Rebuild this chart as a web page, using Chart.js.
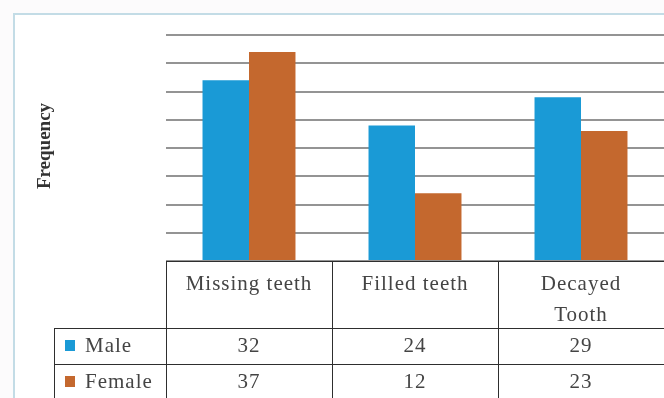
<!DOCTYPE html>
<html>
<head>
<meta charset="utf-8">
<script src="https://cdn.jsdelivr.net/npm/chart.js@4.4.0/dist/chart.umd.min.js"></script>
<style>
    html, body { margin: 0; padding: 0; background: #fcfbfc; }
    #frame {
        position: absolute;
        left: 13px;
        top: 13px;
        width: 700px;
        height: 420px;
        border: 2px solid #c3dce6;
        background: #ffffff;
    }
    #wrap { position: absolute; left: 0; top: 0; width: 664px; height: 398px; }
</style>
</head>
<body>
<div id="frame"></div>
<div id="wrap"><canvas id="teethChart" width="664" height="398"></canvas></div>
<script>
const categories = ['Missing teeth', 'Filled teeth', ['Decayed', 'Tooth']];
const maleValues = [32, 24, 29];
const femaleValues = [37, 12, 23];
const seriesNames = ['Male', 'Female'];

const SERIF = '"Liberation Serif", "DejaVu Serif", serif';
const TEXT = '#444444';
const SPACING = '1px';

// slightly wide letter spacing for every label the chart draws
const spacingPlugin = {
    id: 'spacing',
    beforeDraw(chart) { chart.ctx.letterSpacing = SPACING; },
    afterDraw(chart) { chart.ctx.letterSpacing = '0px'; }
};

// data table under the plot, plus the rotated axis caption
const tablePlugin = {
    id: 'dataTable',
    afterDraw(chart) {
        const ctx = chart.ctx;
        const x = chart.scales.x;
        const area = chart.chartArea;
        const left = 54;
        const right = 664;
        const rowTops = [328, 364];
        const rowH = 36;

        ctx.save();
        ctx.letterSpacing = SPACING;
        ctx.strokeStyle = '#2e2e2e';
        ctx.lineWidth = 1;
        ctx.beginPath();
        // header row top line and column separators
        ctx.moveTo(area.left, area.bottom + 0.5);
        ctx.lineTo(right, area.bottom + 0.5);
        const edges = [];
        for (let i = 0; i < categories.length; i++) {
            edges.push(Math.round(x.getPixelForValue(i) - x.width / categories.length / 2));
        }
        edges.forEach(e => {
            ctx.moveTo(e + 0.5, area.bottom);
            ctx.lineTo(e + 0.5, 398);
        });
        ctx.moveTo(left + 0.5, rowTops[0]);
        ctx.lineTo(left + 0.5, 398);
        rowTops.forEach(t => {
            ctx.moveTo(left, t + 0.5);
            ctx.lineTo(right, t + 0.5);
        });
        ctx.stroke();

        ctx.font = '21px ' + SERIF;
        ctx.textBaseline = 'middle';
        chart.data.datasets.forEach((ds, r) => {
            const cy = rowTops[r] + rowH / 2;
            ctx.fillStyle = ds.backgroundColor;
            ctx.fillRect(65, cy - 6, 10, 11);
            ctx.fillStyle = TEXT;
            ctx.textAlign = 'left';
            ctx.fillText(seriesNames[r], 85, cy);
            ctx.textAlign = 'center';
            ds.data.forEach((v, i) => {
                ctx.fillText(String(v), x.getPixelForValue(i), cy);
            });
        });

        ctx.letterSpacing = '0px';
        ctx.translate(45, 146);
        ctx.rotate(-Math.PI / 2);
        ctx.font = 'bold 19px ' + SERIF;
        ctx.textAlign = 'center';
        ctx.fillStyle = '#333333';
        ctx.fillText('Frequency', 0, 0);
        ctx.restore();
    }
};

const chart = new Chart(document.getElementById('teethChart').getContext('2d'), {
    type: 'bar',
    data: {
        labels: categories,
        datasets: [{
            label: seriesNames[0],
            data: maleValues,
            backgroundColor: '#1a9ad6',
            categoryPercentage: 0.56,
            barPercentage: 1.0
        }, {
            label: seriesNames[1],
            data: femaleValues,
            backgroundColor: '#c4682e',
            categoryPercentage: 0.56,
            barPercentage: 1.0
        }]
    },
    options: {
        responsive: false,
        animation: false,
        layout: {
            padding: { left: 166, right: -2, top: 35, bottom: 0 }
        },
        plugins: {
            legend: { display: false },
            tooltip: { enabled: false }
        },
        scales: {
            x: {
                grid: { display: false, drawTicks: false },
                border: { display: false },
                ticks: {
                    padding: 8,
                    color: TEXT,
                    maxRotation: 0,
                    autoSkip: false,
                    font: { family: SERIF, size: 21, lineHeight: 1.48 }
                },
                afterFit(scale) { scale.height = 137; }
            },
            y: {
                min: 0,
                max: 40,
                ticks: { stepSize: 5, display: false },
                grid: { color: '#949494', lineWidth: 2, drawTicks: false },
                border: { display: false },
                afterFit(scale) { scale.width = 0; }
            }
        }
    },
    plugins: [spacingPlugin, tablePlugin]
});
</script>
</body>
</html>
